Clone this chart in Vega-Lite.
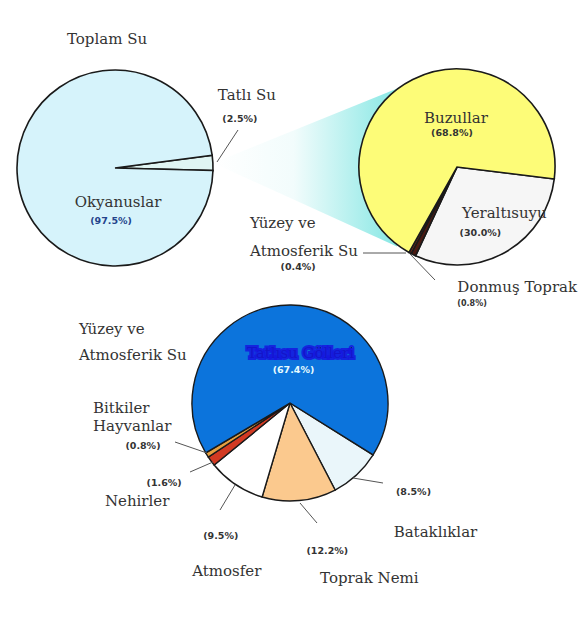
{
  "$schema": "https://vega.github.io/schema/vega-lite/v6.json",
  "width": 582,
  "height": 622,
  "autosize": {"type": "fit", "contains": "padding"},
  "padding": 0,
  "background": "white",
  "config": {"view": {"stroke": null}},
  "datasets": {
    "p1": [
      {"name": "Tatlı Su", "label": "Tatlı Su", "pct": 2.5, "pctText": "(2.5%)", "i": 1},
      {"name": "Okyanuslar", "label": "Okyanuslar", "pct": 97.5, "pctText": "(97.5%)", "i": 2}
    ],
    "p2": [
      {"name": "Yeraltısuyu", "label": "Yeraltısuyu", "pct": 30.0, "pctText": "(30.0%)", "i": 1},
      {"name": "Donmuş Toprak", "label": "Donmuş Toprak", "pct": 0.8, "pctText": "(0.8%)", "i": 2},
      {"name": "Yüzey ve Atmosferik Su", "label": "Yüzey ve\nAtmosferik Su", "pct": 0.4, "pctText": "(0.4%)", "i": 3},
      {"name": "Buzullar", "label": "Buzullar", "pct": 68.8, "pctText": "(68.8%)", "i": 4}
    ],
    "p3": [
      {"name": "Bataklıklar", "label": "Bataklıklar", "pct": 8.5, "pctText": "(8.5%)", "i": 1},
      {"name": "Toprak Nemi", "label": "Toprak Nemi", "pct": 12.2, "pctText": "(12.2%)", "i": 2},
      {"name": "Atmosfer", "label": "Atmosfer", "pct": 9.5, "pctText": "(9.5%)", "i": 3},
      {"name": "Nehirler", "label": "Nehirler", "pct": 1.6, "pctText": "(1.6%)", "i": 4},
      {"name": "Bitkiler Hayvanlar", "label": "Bitkiler\nHayvanlar", "pct": 0.8, "pctText": "(0.8%)", "i": 5},
      {"name": "Tatlısu Gölleri", "label": "Tatlısu Gölleri", "pct": 67.4, "pctText": "(67.4%)", "i": 6}
    ]
  },
  "resolve": {"scale": {"theta": "independent", "color": "independent"}},
  "layer": [
    {
      "data": {"name": "p1"},
      "transform": [{"filter": "datum.name === 'Tatlı Su'"}],
      "mark": {
        "type": "arc", "x": 213, "y": 163, "theta": 1.187, "theta2": 1.997, "outerRadius": 202,
        "fill": {"gradient": "linear", "x1": 0, "y1": 0, "x2": 1, "y2": 0,
          "stops": [{"offset": 0, "color": "#ffffff"}, {"offset": 0.4, "color": "#f2fcfc"}, {"offset": 1, "color": "#74e4e0"}]},
        "strokeWidth": 0
      },
      "encoding": {}
    },
    {
      "data": {"name": "p1"},
      "encoding": {
        "theta": {"field": "pct", "type": "quantitative", "stack": true, "scale": {"domain": [0, 100], "range": [1.4399, 7.7231]}},
        "order": {"field": "i", "type": "quantitative"}
      },
      "layer": [
        {"mark": {"type": "arc", "x": 115, "y": 168, "outerRadius": 98, "stroke": "#1a1a1a", "strokeWidth": 1.6},
         "encoding": {"color": {"field": "name", "type": "nominal", "legend": null, "scale": {"domain": ["Tatlı Su", "Okyanuslar"], "range": ["#e0f5f3", "#d6f3fb"]}}}},
        {"mark": {"type": "text", "x": 115, "y": 168, "radius": 98, "dx": 34, "dy": -63, "font": "DejaVu Serif", "fontSize": 15, "fill": "#333333", "align": "center", "baseline": "alphabetic"},
         "encoding": {"text": {"condition": {"test": "datum.name === 'Tatlı Su'", "field": "label"}, "value": ""}}},
        {"mark": {"type": "text", "x": 115, "y": 168, "radius": 98, "dx": 27, "dy": -41, "font": "DejaVu Sans", "fontWeight": "bold", "fontSize": 9.5, "fill": "#333333", "align": "center", "baseline": "alphabetic"},
         "encoding": {"text": {"condition": {"test": "datum.name === 'Tatlı Su'", "field": "pctText"}, "value": ""}}},
        {"mark": {"type": "text", "x": 115, "y": 168, "radius": 40, "dx": 43, "dy": 37, "font": "DejaVu Serif", "fontSize": 15, "fill": "#333333", "align": "center", "baseline": "alphabetic"},
         "encoding": {"text": {"condition": {"test": "datum.name === 'Okyanuslar'", "field": "label"}, "value": ""}}},
        {"mark": {"type": "text", "x": 115, "y": 168, "radius": 40, "dx": 36, "dy": 54, "font": "DejaVu Sans", "fontWeight": "bold", "fontSize": 9.5, "fill": "#24448c", "align": "center", "baseline": "alphabetic"},
         "encoding": {"text": {"condition": {"test": "datum.name === 'Okyanuslar'", "field": "pctText"}, "value": ""}}}
      ]
    },
    {
      "data": {"name": "p2"},
      "encoding": {
        "theta": {"field": "pct", "type": "quantitative", "stack": true, "scale": {"domain": [0, 100], "range": [1.6930, 7.9762]}},
        "order": {"field": "i", "type": "quantitative"}
      },
      "layer": [
        {"mark": {"type": "arc", "x": 457, "y": 167, "outerRadius": 98, "stroke": "#1a1a1a", "strokeWidth": 1.6},
         "encoding": {"color": {"field": "name", "type": "nominal", "legend": null, "scale": {"domain": ["Yeraltısuyu", "Donmuş Toprak", "Yüzey ve Atmosferik Su", "Buzullar"], "range": ["#f6f6f6", "#4a1a12", "#7a2b1b", "#fdfc78"]}}}},
        {"mark": {"type": "text", "x": 457, "y": 167, "radius": 40, "dx": 17, "dy": -8, "font": "DejaVu Serif", "fontSize": 15, "fill": "#333333", "align": "center", "baseline": "alphabetic"},
         "encoding": {"text": {"condition": {"test": "datum.name === 'Buzullar'", "field": "label"}, "value": ""}}},
        {"mark": {"type": "text", "x": 457, "y": 167, "radius": 40, "dx": 13, "dy": 5, "font": "DejaVu Sans", "fontWeight": "bold", "fontSize": 9.5, "fill": "#333333", "align": "center", "baseline": "alphabetic"},
         "encoding": {"text": {"condition": {"test": "datum.name === 'Buzullar'", "field": "pctText"}, "value": ""}}},
        {"mark": {"type": "text", "x": 457, "y": 167, "radius": 40, "dx": 28, "dy": 16, "font": "DejaVu Serif", "fontSize": 15, "fill": "#333333", "align": "center", "baseline": "alphabetic"},
         "encoding": {"text": {"condition": {"test": "datum.name === 'Yeraltısuyu'", "field": "label"}, "value": ""}}},
        {"mark": {"type": "text", "x": 457, "y": 167, "radius": 40, "dx": 4, "dy": 34, "font": "DejaVu Sans", "fontWeight": "bold", "fontSize": 9.5, "fill": "#333333", "align": "center", "baseline": "alphabetic"},
         "encoding": {"text": {"condition": {"test": "datum.name === 'Yeraltısuyu'", "field": "pctText"}, "value": ""}}},
        {"mark": {"type": "text", "x": 457, "y": 167, "radius": 98, "dx": -160, "dy": -25, "font": "DejaVu Serif", "fontSize": 15, "fill": "#333333", "align": "left", "baseline": "alphabetic", "lineBreak": "\n", "lineHeight": 28},
         "encoding": {"text": {"condition": {"test": "datum.name === 'Yüzey ve Atmosferik Su'", "field": "label"}, "value": ""}}},
        {"mark": {"type": "text", "x": 457, "y": 167, "radius": 98, "dx": -112, "dy": 17, "font": "DejaVu Sans", "fontWeight": "bold", "fontSize": 9.5, "fill": "#333333", "align": "center", "baseline": "alphabetic"},
         "encoding": {"text": {"condition": {"test": "datum.name === 'Yüzey ve Atmosferik Su'", "field": "pctText"}, "value": ""}}},
        {"mark": {"type": "text", "x": 457, "y": 167, "radius": 98, "dx": 44, "dy": 37, "font": "DejaVu Serif", "fontSize": 15, "fill": "#333333", "align": "left", "baseline": "alphabetic"},
         "encoding": {"text": {"condition": {"test": "datum.name === 'Donmuş Toprak'", "field": "label"}, "value": ""}}},
        {"mark": {"type": "text", "x": 457, "y": 167, "radius": 98, "dx": 44, "dy": 51, "font": "DejaVu Sans", "fontWeight": "bold", "fontSize": 8, "fill": "#333333", "align": "left", "baseline": "alphabetic"},
         "encoding": {"text": {"condition": {"test": "datum.name === 'Donmuş Toprak'", "field": "pctText"}, "value": ""}}}
      ]
    },
    {
      "data": {"name": "p3"},
      "encoding": {
        "theta": {"field": "pct", "type": "quantitative", "stack": true, "scale": {"domain": [0, 100], "range": [2.1293, 8.4125]}},
        "order": {"field": "i", "type": "quantitative"}
      },
      "layer": [
        {"mark": {"type": "arc", "x": 290, "y": 403, "outerRadius": 98, "stroke": "#1a1a1a", "strokeWidth": 1.4},
         "encoding": {"color": {"field": "name", "type": "nominal", "legend": null, "scale": {"domain": ["Bataklıklar", "Toprak Nemi", "Atmosfer", "Nehirler", "Bitkiler Hayvanlar", "Tatlısu Gölleri"], "range": ["#eaf6fa", "#fbc98e", "#ffffff", "#d23a22", "#e6a040", "#0c74dc"]}}}},
        {"mark": {"type": "text", "x": 290, "y": 403, "radius": 40, "dx": 10, "dy": -5, "font": "DejaVu Serif", "fontSize": 15, "fill": "#0c0c50", "stroke": "#1616e0", "strokeWidth": 4, "strokeOpacity": 0.85, "align": "center", "baseline": "alphabetic"},
         "encoding": {"text": {"condition": {"test": "datum.name === 'Tatlısu Gölleri'", "field": "label"}, "value": ""}}},
        {"mark": {"type": "text", "x": 290, "y": 403, "radius": 40, "dx": 3, "dy": 10, "font": "DejaVu Sans", "fontWeight": "bold", "fontSize": 9.5, "fill": "#e6fbff", "align": "center", "baseline": "alphabetic"},
         "encoding": {"text": {"condition": {"test": "datum.name === 'Tatlısu Gölleri'", "field": "pctText"}, "value": ""}}},
        {"mark": {"type": "text", "x": 290, "y": 403, "radius": 98, "dx": 79, "dy": 62, "font": "DejaVu Serif", "fontSize": 15, "fill": "#333333", "align": "center", "baseline": "alphabetic"},
         "encoding": {"text": {"condition": {"test": "datum.name === 'Bataklıklar'", "field": "label"}, "value": ""}}},
        {"mark": {"type": "text", "x": 290, "y": 403, "radius": 98, "dx": 57, "dy": 20, "font": "DejaVu Sans", "fontWeight": "bold", "fontSize": 9.5, "fill": "#333333", "align": "center", "baseline": "alphabetic"},
         "encoding": {"text": {"condition": {"test": "datum.name === 'Bataklıklar'", "field": "pctText"}, "value": ""}}},
        {"mark": {"type": "text", "x": 290, "y": 403, "radius": 98, "dx": 70, "dy": 82, "font": "DejaVu Serif", "fontSize": 15, "fill": "#333333", "align": "center", "baseline": "alphabetic"},
         "encoding": {"text": {"condition": {"test": "datum.name === 'Toprak Nemi'", "field": "label"}, "value": ""}}},
        {"mark": {"type": "text", "x": 290, "y": 403, "radius": 98, "dx": 28, "dy": 53, "font": "DejaVu Sans", "fontWeight": "bold", "fontSize": 9.5, "fill": "#333333", "align": "center", "baseline": "alphabetic"},
         "encoding": {"text": {"condition": {"test": "datum.name === 'Toprak Nemi'", "field": "pctText"}, "value": ""}}},
        {"mark": {"type": "text", "x": 290, "y": 403, "radius": 98, "dx": -9, "dy": 91, "font": "DejaVu Serif", "fontSize": 15, "fill": "#333333", "align": "center", "baseline": "alphabetic"},
         "encoding": {"text": {"condition": {"test": "datum.name === 'Atmosfer'", "field": "label"}, "value": ""}}},
        {"mark": {"type": "text", "x": 290, "y": 403, "radius": 98, "dx": -15, "dy": 54, "font": "DejaVu Sans", "fontWeight": "bold", "fontSize": 9.5, "fill": "#333333", "align": "center", "baseline": "alphabetic"},
         "encoding": {"text": {"condition": {"test": "datum.name === 'Atmosfer'", "field": "pctText"}, "value": ""}}},
        {"mark": {"type": "text", "x": 290, "y": 403, "radius": 98, "dx": -74, "dy": 45, "font": "DejaVu Serif", "fontSize": 15, "fill": "#333333", "align": "center", "baseline": "alphabetic"},
         "encoding": {"text": {"condition": {"test": "datum.name === 'Nehirler'", "field": "label"}, "value": ""}}},
        {"mark": {"type": "text", "x": 290, "y": 403, "radius": 98, "dx": -47, "dy": 25, "font": "DejaVu Sans", "fontWeight": "bold", "fontSize": 9.5, "fill": "#333333", "align": "center", "baseline": "alphabetic"},
         "encoding": {"text": {"condition": {"test": "datum.name === 'Nehirler'", "field": "pctText"}, "value": ""}}},
        {"mark": {"type": "text", "x": 290, "y": 403, "radius": 98, "dx": -114, "dy": -42, "font": "DejaVu Serif", "fontSize": 15, "fill": "#333333", "align": "left", "baseline": "alphabetic", "lineBreak": "\n", "lineHeight": 18},
         "encoding": {"text": {"condition": {"test": "datum.name === 'Bitkiler Hayvanlar'", "field": "label"}, "value": ""}}},
        {"mark": {"type": "text", "x": 290, "y": 403, "radius": 98, "dx": -64, "dy": -6, "font": "DejaVu Sans", "fontWeight": "bold", "fontSize": 9.5, "fill": "#333333", "align": "center", "baseline": "alphabetic"},
         "encoding": {"text": {"condition": {"test": "datum.name === 'Bitkiler Hayvanlar'", "field": "pctText"}, "value": ""}}}
      ]
    },
    {"data": {"name": "p1"}, "transform": [{"filter": "datum.name === 'Tatlı Su'"}],
     "mark": {"type": "rule", "stroke": "#555555", "strokeWidth": 1},
     "encoding": {"x": {"value": 217}, "y": {"value": 162}, "x2": {"value": 238}, "y2": {"value": 130}}},
    {"data": {"name": "p2"}, "transform": [{"filter": "datum.name === 'Yüzey ve Atmosferik Su'"}],
     "mark": {"type": "rule", "stroke": "#555555", "strokeWidth": 1},
     "encoding": {"x": {"value": 363}, "y": {"value": 253}, "x2": {"value": 406}, "y2": {"value": 253}}},
    {"data": {"name": "p2"}, "transform": [{"filter": "datum.name === 'Donmuş Toprak'"}],
     "mark": {"type": "rule", "stroke": "#555555", "strokeWidth": 1},
     "encoding": {"x": {"value": 410}, "y": {"value": 254}, "x2": {"value": 435}, "y2": {"value": 280}}},
    {"data": {"name": "p3"}, "transform": [{"filter": "datum.name === 'Bitkiler Hayvanlar'"}],
     "mark": {"type": "rule", "stroke": "#555555", "strokeWidth": 1},
     "encoding": {"x": {"value": 175}, "y": {"value": 442}, "x2": {"value": 207}, "y2": {"value": 453}}},
    {"data": {"name": "p3"}, "transform": [{"filter": "datum.name === 'Nehirler'"}],
     "mark": {"type": "rule", "stroke": "#555555", "strokeWidth": 1},
     "encoding": {"x": {"value": 190}, "y": {"value": 472}, "x2": {"value": 213}, "y2": {"value": 462}}},
    {"data": {"name": "p3"}, "transform": [{"filter": "datum.name === 'Atmosfer'"}],
     "mark": {"type": "rule", "stroke": "#555555", "strokeWidth": 1},
     "encoding": {"x": {"value": 220}, "y": {"value": 510}, "x2": {"value": 235}, "y2": {"value": 485}}},
    {"data": {"name": "p3"}, "transform": [{"filter": "datum.name === 'Toprak Nemi'"}],
     "mark": {"type": "rule", "stroke": "#555555", "strokeWidth": 1},
     "encoding": {"x": {"value": 317}, "y": {"value": 523}, "x2": {"value": 300}, "y2": {"value": 503}}},
    {"data": {"name": "p3"}, "transform": [{"filter": "datum.name === 'Bataklıklar'"}],
     "mark": {"type": "rule", "stroke": "#555555", "strokeWidth": 1},
     "encoding": {"x": {"value": 383}, "y": {"value": 483}, "x2": {"value": 353}, "y2": {"value": 478}}},
    {"data": {"values": [{"title": "Toplam Su"}]},
     "mark": {"type": "text", "x": 107, "y": 44, "font": "DejaVu Serif", "fontSize": 15, "fill": "#333333", "align": "center", "baseline": "alphabetic"},
     "encoding": {"text": {"field": "title"}}},
    {"data": {"values": [{"title": "Yüzey ve\nAtmosferik Su"}]},
     "mark": {"type": "text", "x": 79, "y": 334, "font": "DejaVu Serif", "fontSize": 15, "fill": "#333333", "align": "left", "baseline": "alphabetic", "lineBreak": "\n", "lineHeight": 26},
     "encoding": {"text": {"field": "title"}}}
  ]
}
